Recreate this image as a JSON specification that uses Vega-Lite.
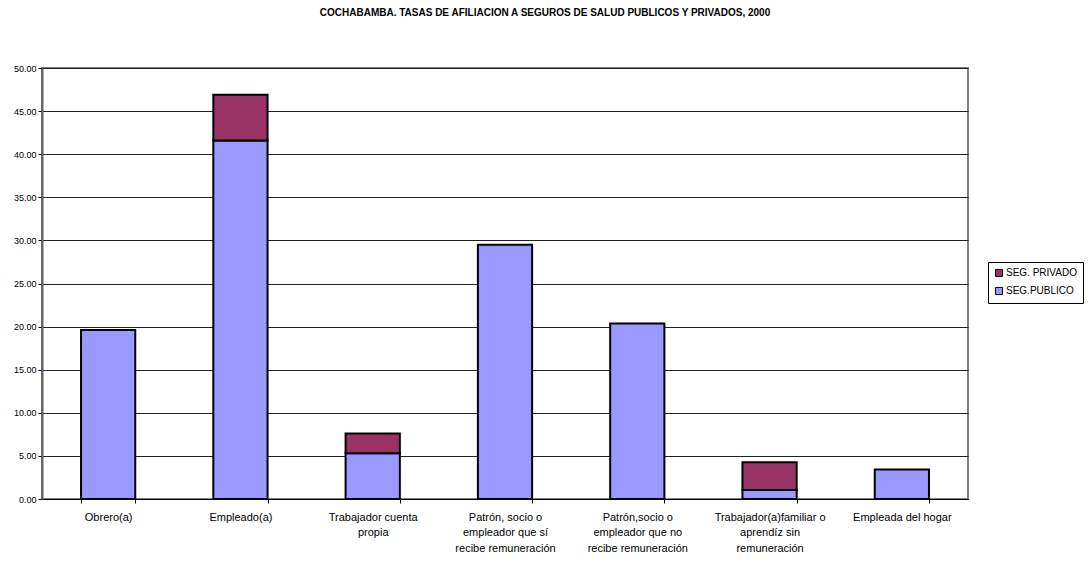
{
  "$schema": "https://vega.github.io/schema/vega-lite/v6.json",
  "width": 926,
  "height": 431,
  "autosize": "none",
  "padding": {"left": 42, "top": 68, "right": 122, "bottom": 71},
  "background": "white",
  "title": {
    "text": "COCHABAMBA. TASAS DE AFILIACION A SEGUROS DE SALUD PUBLICOS Y PRIVADOS, 2000",
    "font": "Liberation Sans",
    "fontSize": 10,
    "fontWeight": "bold",
    "color": "#000000",
    "anchor": "middle",
    "dx": 40,
    "offset": 46
  },
  "data": {
    "values": [
      {"ocupacion": "Obrero(a)", "seguro": "SEG.PUBLICO", "tasa": 19.6},
      {"ocupacion": "Empleado(a)", "seguro": "SEG.PUBLICO", "tasa": 41.6},
      {"ocupacion": "Empleado(a)", "seguro": "SEG. PRIVADO", "tasa": 5.3},
      {"ocupacion": "Trabajador cuenta|propia", "seguro": "SEG.PUBLICO", "tasa": 5.3},
      {"ocupacion": "Trabajador cuenta|propia", "seguro": "SEG. PRIVADO", "tasa": 2.3},
      {"ocupacion": "Patrón, socio o|empleador que sí|recibe remuneración", "seguro": "SEG.PUBLICO", "tasa": 29.5},
      {"ocupacion": "Patrón,socio o|empleador que no|recibe remuneración", "seguro": "SEG.PUBLICO", "tasa": 20.35},
      {"ocupacion": "Trabajador(a)familiar o|aprendíz sin|remuneración", "seguro": "SEG.PUBLICO", "tasa": 1.05},
      {"ocupacion": "Trabajador(a)familiar o|aprendíz sin|remuneración", "seguro": "SEG. PRIVADO", "tasa": 3.2},
      {"ocupacion": "Empleada del hogar", "seguro": "SEG.PUBLICO", "tasa": 3.43}
    ]
  },
  "mark": {"type": "bar", "stroke": "#000000", "strokeWidth": 2},
  "encoding": {
    "x": {
      "field": "ocupacion",
      "type": "nominal",
      "sort": [
        "Obrero(a)",
        "Empleado(a)",
        "Trabajador cuenta|propia",
        "Patrón, socio o|empleador que sí|recibe remuneración",
        "Patrón,socio o|empleador que no|recibe remuneración",
        "Trabajador(a)familiar o|aprendíz sin|remuneración",
        "Empleada del hogar"
      ],
      "scale": {"paddingInner": 0.59, "paddingOuter": 0.295},
      "axis": {
        "title": null,
        "labelAngle": 0,
        "labelExpr": "datum.value ? split(datum.value, '|') : ''",
        "labelFont": "Liberation Sans",
        "labelFontSize": 11,
        "labelLineHeight": 15.5,
        "labelColor": "#000000",
        "labelPadding": 8,
        "labelBaseline": "top",
        "labelLimit": 200,
        "tickBand": "extent",
        "tickSize": 4,
        "tickColor": "#000000",
        "domainColor": "#000000",
        "domainWidth": 1,
        "grid": false
      }
    },
    "y": {
      "field": "tasa",
      "type": "quantitative",
      "stack": "zero",
      "scale": {"domain": [0, 50], "nice": false},
      "axis": {
        "title": null,
        "values": [0, 5, 10, 15, 20, 25, 30, 35, 40, 45, 50],
        "format": ".2f",
        "labelFont": "Liberation Sans",
        "labelFontSize": 9,
        "labelColor": "#000000",
        "labelPadding": 2,
        "tickSize": 4,
        "tickColor": "#000000",
        "domainColor": "#606060",
        "domainWidth": 2,
        "grid": true,
        "gridColor": "#202020",
        "gridWidth": 1
      }
    },
    "color": {
      "field": "seguro",
      "type": "nominal",
      "scale": {"domain": ["SEG. PRIVADO", "SEG.PUBLICO"], "range": ["#993366", "#9999FF"]},
      "legend": {
        "title": null,
        "orient": "none",
        "legendX": 946,
        "legendY": 194,
        "symbolType": "square",
        "symbolSize": 50,
        "symbolStrokeColor": "#000000",
        "symbolStrokeWidth": 1,
        "labelFont": "Liberation Sans",
        "labelFontSize": 10,
        "labelColor": "#000000",
        "labelOffset": 2,
        "rowPadding": 6,
        "padding": 6,
        "strokeColor": "#000000",
        "fillColor": "white"
      }
    },
    "order": {"field": "seguro", "sort": "descending"}
  },
  "config": {
    "view": {"stroke": "#808080", "strokeWidth": 2}
  }
}
